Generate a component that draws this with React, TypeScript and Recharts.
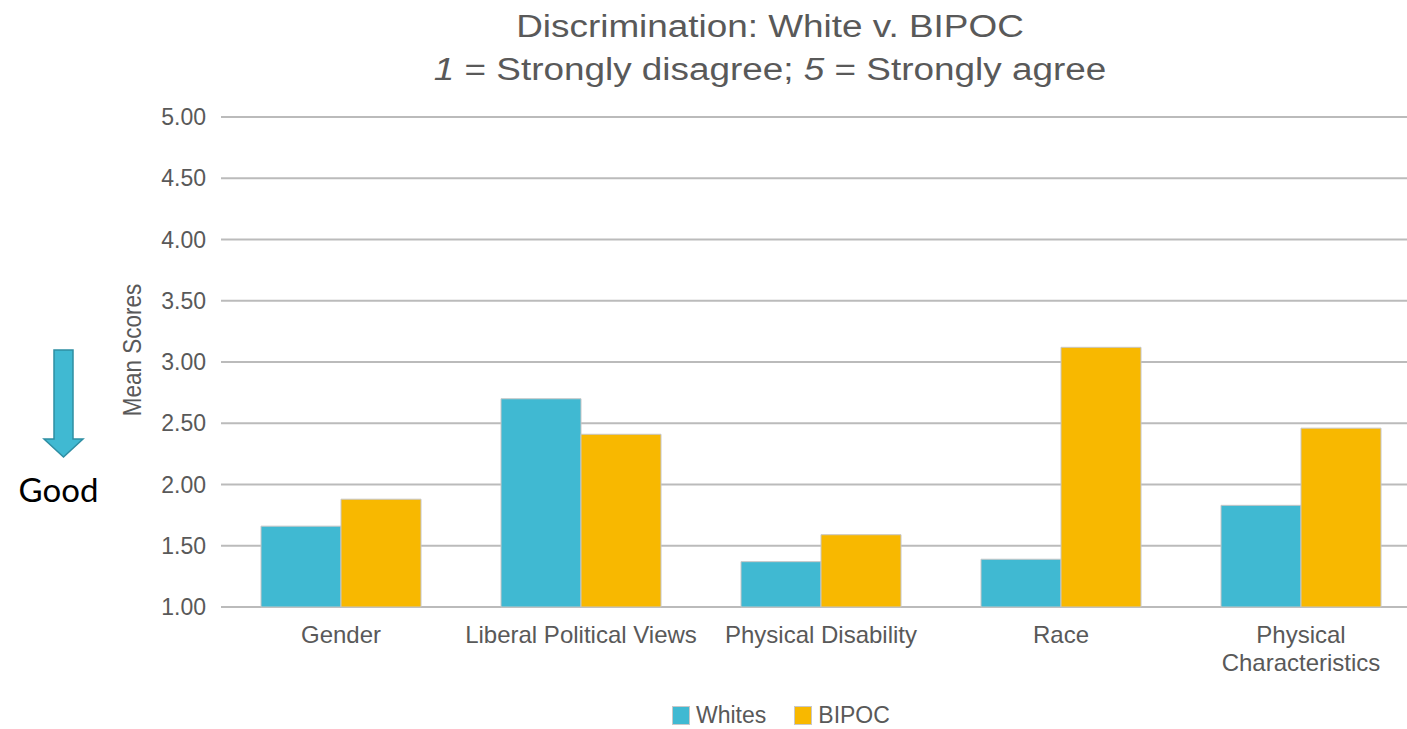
import {
  BarChart,
  Bar,
  XAxis,
  YAxis,
  CartesianGrid,
  Legend,
  Label,
} from 'recharts';

const categories = [
  'Gender',
  'Liberal Political Views',
  'Physical Disability',
  'Race',
  'Physical Characteristics',
];
// how each category name is broken over lines under the axis
const tickLines = [
  ['Gender'],
  ['Liberal Political Views'],
  ['Physical Disability'],
  ['Race'],
  ['Physical', 'Characteristics'],
];
const seriesNames = ['Whites', 'BIPOC'];
const whites = [1.66, 2.7, 1.37, 1.39, 1.83];
const bipoc = [1.88, 2.41, 1.59, 3.12, 2.46];
const yTicks = [1, 1.5, 2, 2.5, 3, 3.5, 4, 4.5, 5];

const data = categories.map((name, i) => ({
  name,
  whites: whites[i],
  bipoc: bipoc[i],
}));

const FONT = '"Liberation Sans", Arial, sans-serif';
const TEXT_GREY = '#595959';
const TEAL = '#40B9D2';
const GOLD = '#F8B800';

function CategoryTick({ x, y, index }: { x: number; y: number; index: number }) {
  const lines = tickLines[index] || [categories[index]];
  return (
    <text
      x={x}
      y={y}
      textAnchor="middle"
      fill={TEXT_GREY}
      fontSize={24}
      fontFamily={FONT}
    >
      {lines.map((line, i) => (
        <tspan key={line} x={x} dy={i === 0 ? 17 : 28}>
          {line}
        </tspan>
      ))}
    </text>
  );
}

function LegendBox({ payload }: { payload?: { value: string; color: string }[] }) {
  const items = [...(payload || [])].sort(
    (a, b) => seriesNames.indexOf(a.value) - seriesNames.indexOf(b.value),
  );
  return (
    <div
      style={{
        display: 'flex',
        alignItems: 'center',
        height: 28,
        fontSize: 23,
        fontFamily: FONT,
        color: TEXT_GREY,
      }}
    >
      {items.map((entry) => (
        <span
          key={entry.value}
          style={{ display: 'flex', alignItems: 'center', marginRight: 28 }}
        >
          <span
            style={{
              display: 'inline-block',
              width: 16,
              height: 17,
              background: entry.color,
              border: '1px solid #c8c8c8',
              marginRight: 6,
            }}
          />
          {entry.value}
        </span>
      ))}
    </div>
  );
}

function MeanScoresLabel({ viewBox }: { viewBox?: { y: number; height: number } }) {
  const cx = 132;
  const cy = (viewBox ? viewBox.y + viewBox.height / 2 : 362) - 12;
  return (
    <text
      x={cx}
      y={cy}
      transform={`rotate(-90 ${cx} ${cy}) translate(${cx} ${cy}) scale(1 1.18) translate(${-cx} ${-cy})`}
      textAnchor="middle"
      dominantBaseline="central"
      fill={TEXT_GREY}
      fontSize={22.5}
      fontFamily={FONT}
    >
      Mean Scores
    </text>
  );
}

export default function App() {
  const titleStretch = 'translate(770 0) scale(1.19 1) translate(-770 0)';
  return (
    <div
      style={{
        position: 'fixed',
        left: 0,
        top: 0,
        width: 1407,
        height: 729,
        overflow: 'hidden',
        background: '#fff',
      }}
    >
      <svg
        width={1407}
        height={110}
        style={{ position: 'absolute', left: 0, top: 0, zIndex: 1 }}
      >
        <g transform={titleStretch}>
          <text
            x={770}
            y={37}
            textAnchor="middle"
            fontSize={31}
            fontFamily={FONT}
            fill={TEXT_GREY}
          >
            Discrimination: White v. BIPOC
          </text>
          <text
            x={770}
            y={80}
            textAnchor="middle"
            fontSize={31}
            fontFamily={FONT}
            fill={TEXT_GREY}
          >
            <tspan fontStyle="italic">1</tspan> = Strongly disagree;{' '}
            <tspan fontStyle="italic">5</tspan> = Strongly agree
          </text>
        </g>
      </svg>

      {/* "lower is better" marker on the left */}
      <svg
        width={110}
        height={180}
        style={{ position: 'absolute', left: 0, top: 340, zIndex: 1 }}
      >
        <polygon
          points="54,10 73,10 73,99 83,99 63.5,117 44,99 54,99"
          fill={TEAL}
          stroke="#2E8EA3"
          strokeWidth={1.5}
        />
        <text
          x={58.5}
          y={162}
          textAnchor="middle"
          fontSize={33}
          fontFamily="Lato, 'Open Sans', sans-serif"
          fill="#000"
        >
          Good
        </text>
      </svg>

      <BarChart
        width={1440}
        height={729}
        data={data}
        margin={{ top: 117, right: 19, left: 43, bottom: 0 }}
        barCategoryGap={40}
        barGap={0}
      >
        <CartesianGrid vertical={false} stroke="#bbbbbb" strokeWidth={2.2} />
        <XAxis
          dataKey="name"
          height={94}
          axisLine={false}
          tickLine={false}
          tickSize={0}
          tickMargin={19}
          interval={0}
          tick={CategoryTick}
        />
        <YAxis
          width={178}
          domain={[1, 5]}
          ticks={yTicks}
          axisLine={false}
          tickLine={false}
          tickSize={0}
          tickMargin={15}
          tickFormatter={(v: number) => v.toFixed(2)}
          tick={{ fontSize: 23, fill: TEXT_GREY, fontFamily: FONT }}
        >
          <Label content={MeanScoresLabel} />
        </YAxis>
        <Legend
          verticalAlign="bottom"
          content={LegendBox}
          wrapperStyle={{ left: 672, bottom: 0, width: 260 }}
        />
        <Bar
          dataKey="whites"
          name="Whites"
          fill={TEAL}
          stroke="#c6c6c6"
          strokeWidth={1}
          isAnimationActive={false}
        />
        <Bar
          dataKey="bipoc"
          name="BIPOC"
          fill={GOLD}
          stroke="#c6c6c6"
          strokeWidth={1}
          isAnimationActive={false}
        />
      </BarChart>
    </div>
  );
}
